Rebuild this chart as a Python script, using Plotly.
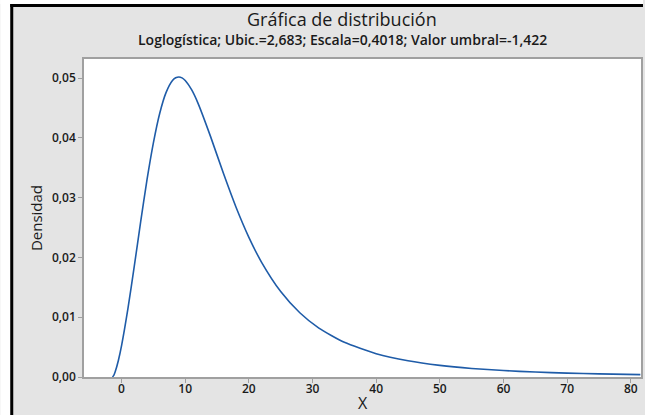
import plotly.graph_objects as go

# puntos (x, densidad)
x_vals = [-1.422, -1.2, -1.0, -0.5, 0, 1, 2, 3, 4, 5, 6, 7, 8, 8.5, 9, 9.5, 10, 11, 12,
          14, 16, 18, 20, 22, 25, 28, 31, 35, 40, 45, 50, 55, 60, 65, 70, 75, 81.5]
dens = [0.0, 0.00033, 0.00087, 0.00277, 0.00525, 0.01143, 0.01854, 0.02594,
        0.0330, 0.03917, 0.04413, 0.04762, 0.04961, 0.05005, 0.05020, 0.05004,
        0.04961, 0.04806, 0.04582, 0.04017, 0.03407, 0.02836, 0.02337, 0.01919,
        0.0143, 0.01075, 0.00818, 0.0058, 0.0039, 0.00271, 0.00194, 0.00143,
        0.00108, 0.00083, 0.00065, 0.00052, 0.00039]

x_ticks = [0, 10, 20, 30, 40, 50, 60, 70, 80]
y_ticks = [0.00, 0.01, 0.02, 0.03, 0.04, 0.05]

title = "Gráfica de distribución"
subtitle = "Loglogística; Ubic.=2,683; Escala=0,4018; Valor umbral=-1,422"

fnt = "Open Sans"

fig = go.Figure()
fig.add_trace(go.Scatter(x=x_vals, y=dens, mode="lines",
                         line=dict(color="#1f5ca8", width=1.6, shape="spline", smoothing=0.6),
                         showlegend=False, hoverinfo="skip"))

# pixel -> paper helpers (plot area 84..643 x 59..377)
def px(v):
    return (v - 84) / 559

def py(v):
    return (377 - v) / 318

# marco negro de la ventana (arriba e izquierda), fuera blanco
shapes = [
    dict(type="rect", xref="paper", yref="paper", x0=px(0), x1=px(645), y0=py(4), y1=py(0),
         fillcolor="white", line_width=0, layer="above"),
    dict(type="rect", xref="paper", yref="paper", x0=px(0), x1=px(10), y0=py(415), y1=py(0),
         fillcolor="white", line_width=0, layer="above"),
    dict(type="rect", xref="paper", yref="paper", x0=px(10), x1=px(13), y0=py(415), y1=py(4),
         fillcolor="black", line_width=0, layer="above"),
    dict(type="rect", xref="paper", yref="paper", x0=px(10), x1=px(645), y0=py(7), y1=py(4),
         fillcolor="black", line_width=0, layer="above"),
]

fig.update_layout(
    width=645, height=415,
    margin=dict(l=84, r=2, t=59, b=38),
    paper_bgcolor="#e4e4e4", plot_bgcolor="white",
    separators=", ",
    font=dict(family=fnt, color="#1a1a1a"),
    shapes=shapes,
    annotations=[
        dict(text=title, xref="paper", yref="paper", x=px(343), y=py(19),
             xanchor="center", yanchor="middle", showarrow=False,
             font=dict(size=18, family=fnt, color="#1a1a1a", weight=500)),
        dict(text=subtitle, xref="paper", yref="paper", x=px(343), y=py(40),
             xanchor="center", yanchor="middle", showarrow=False,
             font=dict(size=14, family=fnt, color="#1a1a1a", weight=600)),
    ],
)

fig.update_xaxes(range=[-5.9, 81.6], tickvals=x_ticks, ticks="outside", ticklen=4,
                 tickcolor="#a0a0a0", showline=True, linecolor="#a0a0a0", linewidth=1.5,
                 mirror=True, showgrid=False, zeroline=False, ticklabelstandoff=-4,
                 tickfont=dict(size=12, weight=600),
                 title=dict(text="X", font=dict(size=16), standoff=2))
fig.update_yaxes(range=[0, 0.0532], tickvals=y_ticks, tickformat=".2f", ticks="outside",
                 ticklen=4, tickcolor="#a0a0a0", showline=True, linecolor="#a0a0a0",
                 linewidth=1.5, mirror=True, showgrid=False, zeroline=False,
                 tickfont=dict(size=12, weight=600),
                 title=dict(text="Densidad", font=dict(size=15), standoff=6))

# quitar el margen del body para que la figura ocupe la ventana
fig.write_html("out.html", config={"displayModeBar": False},
               post_script="document.body.style.margin='0';")
